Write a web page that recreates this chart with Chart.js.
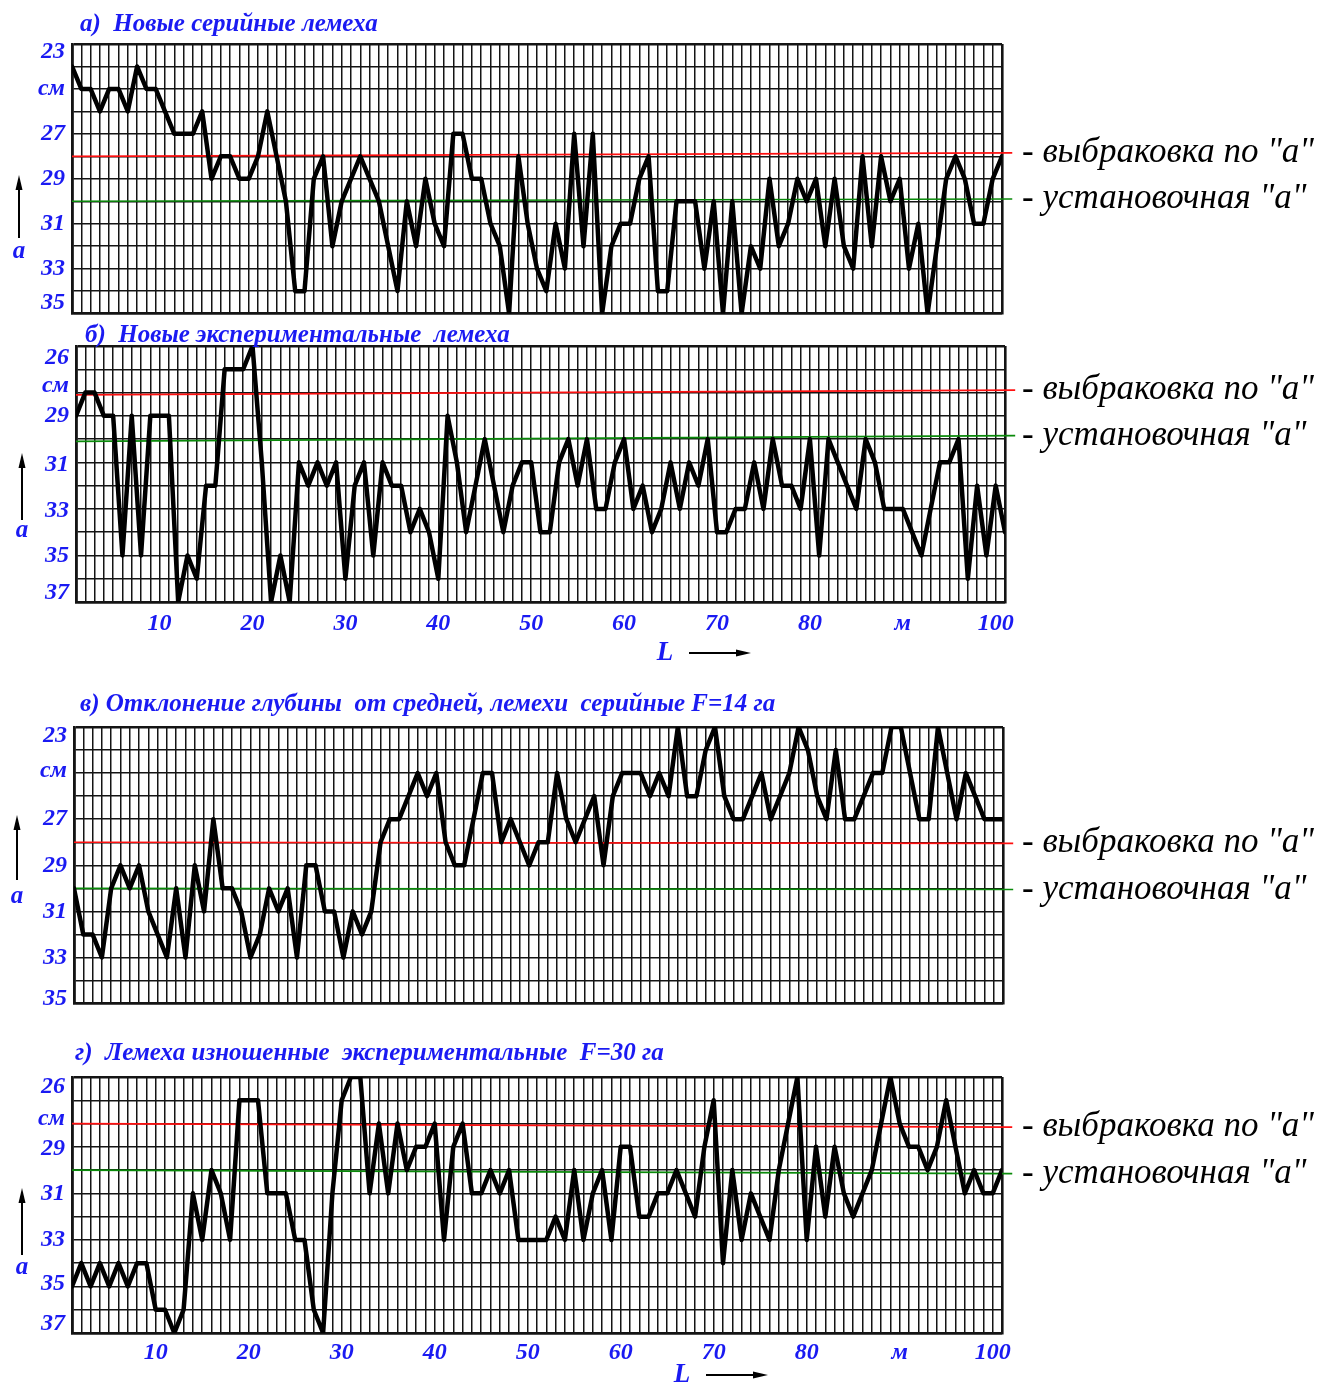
<!DOCTYPE html>
<html lang="ru">
<head>
<meta charset="utf-8">
<title>Глубина вспашки по длине гона</title>
<script src="https://cdn.jsdelivr.net/npm/chart.js@4.4.1/dist/chart.umd.min.js"></script>
<style>
  html, body { margin: 0; padding: 0; background: #fff; }
  #page { position: relative; width: 1318px; height: 1383px; overflow: hidden; }
  #page canvas { position: absolute; left: 0; }
</style>
</head>
<body>
<div id="page">
  <canvas id="chartA"></canvas>
  <canvas id="chartB"></canvas>
  <canvas id="chartC"></canvas>
  <canvas id="chartD"></canvas>
</div>
<script>
// Depth of ploughing along the run, four recorder strips
const BLUE = '#1a1af2';
const GRID = '#141414';
const SERIF = '"Liberation Serif", "Times New Roman", serif';
const TICK_FONT = { family: SERIF, size: 24, weight: 'bold', style: 'italic' };
const ARROW_END = 102.1;   // where the red / green arrows stop, in metres

// Length of run L, m (one reading per metre)
const metres = Array.from({ length: 101 }, (_, i) => i + 1);

// L axis labels
const lTickValues = [10, 20, 30, 40, 50, 60, 70, 80, 90, 100];
const lTickLabels = ['10', '20', '30', '40', '50', '60', '70', '80', 'м', '100'];

// а) new serial shares, depth a, cm
const depthA = [24, 25, 25, 26, 25, 25, 26, 24, 25, 25, 26, 27, 27, 27, 26, 29, 28, 28, 29, 29,
                28, 26, 28, 30, 34, 34, 29, 28, 32, 30, 29, 28, 29, 30, 32, 34, 30, 32, 29, 31,
                32, 27, 27, 29, 29, 31, 32, 35, 28, 31, 33, 34, 31, 33, 27, 32, 27, 35, 32, 31,
                31, 29, 28, 34, 34, 30, 30, 30, 33, 30, 35, 30, 35, 32, 33, 29, 32, 31, 29, 30,
                29, 32, 29, 32, 33, 28, 32, 28, 30, 29, 33, 31, 35, 32, 29, 28, 29, 31, 31, 29, 28];
const rejectA = [28, 27.85];
const settingA = [30, 29.9];
const aTickValues = [23.35, 25, 27, 29, 31, 33, 34.5];
const aTickLabels = ['23', 'см', '27', '29', '31', '33', '35'];

// б) new experimental shares
const depthB = [29, 28, 28, 29, 29, 35, 29, 35, 29, 29, 29, 37, 35, 36, 32, 32, 27, 27, 27, 26,
                31, 37, 35, 37, 31, 32, 31, 32, 31, 36, 32, 31, 35, 31, 32, 32, 34, 33, 34, 36,
                29, 31, 34, 32, 30, 32, 34, 32, 31, 31, 34, 34, 31, 30, 32, 30, 33, 33, 31, 30,
                33, 32, 34, 33, 31, 33, 31, 32, 30, 34, 34, 33, 33, 31, 33, 30, 32, 32, 33, 30,
                35, 30, 31, 32, 33, 30, 31, 33, 33, 33, 34, 35, 33, 31, 31, 30, 36, 32, 35, 32, 34];
const rejectB = [28.1, 27.9];
const settingB = [30.1, 29.85];
const bTickValues = [26.5, 27.7, 29, 31.1, 33.1, 35, 36.6];
const bTickLabels = ['26', 'см', '29', '31', '33', '35', '37'];

// в) serial shares, F = 14 ha
const depthC = [30, 32, 32, 33, 30, 29, 30, 29, 31, 32, 33, 30, 33, 29, 31, 27, 30, 30, 31, 33,
                32, 30, 31, 30, 33, 29, 29, 31, 31, 33, 31, 32, 31, 28, 27, 27, 26, 25, 26, 25,
                28, 29, 29, 27, 25, 25, 28, 27, 28, 29, 28, 28, 25, 27, 28, 27, 26, 29, 26, 25,
                25, 25, 26, 25, 26, 23, 26, 26, 24, 23, 26, 27, 27, 26, 25, 27, 26, 25, 23, 24,
                26, 27, 24, 27, 27, 26, 25, 25, 23, 23, 25, 27, 27, 23, 25, 27, 25, 26, 27, 27, 27];
const rejectC = [28, 28.05];
const settingC = [30, 30.05];
const cTickValues = [23.4, 24.9, 27, 29, 31, 33, 34.8];
const cTickLabels = ['23', 'см', '27', '29', '31', '33', '35'];

// г) worn experimental shares, F = 30 ha
const depthD = [35, 34, 35, 34, 35, 34, 35, 34, 34, 36, 36, 37, 36, 31, 33, 30, 31, 33, 27, 27,
                27, 31, 31, 31, 33, 33, 36, 37, 31, 27, 26, 26, 31, 28, 31, 28, 30, 29, 29, 28,
                33, 29, 28, 31, 31, 30, 31, 30, 33, 33, 33, 33, 32, 33, 30, 33, 31, 30, 33, 29,
                29, 32, 32, 31, 31, 30, 31, 32, 29, 27, 34, 30, 33, 31, 32, 33, 30, 28, 26, 33,
                29, 32, 29, 31, 32, 31, 30, 28, 26, 28, 29, 29, 30, 29, 27, 29, 31, 30, 31, 31, 30];
const rejectD = [28, 28.15];
const settingD = [30, 30.15];
const dTickValues = [26.4, 27.8, 29.1, 31, 33, 34.9, 36.6];
const dTickLabels = ['26', 'см', '29', '31', '33', '35', '37'];

const rejectText = '- выбраковка по "а"';
const settingText = '- установочная "а"';

// Arrow with a filled head, from (x1,y1) towards (x2,y2)
function drawArrow(ctx, x1, y1, x2, y2) {
    const ang = Math.atan2(y2 - y1, x2 - x1);
    ctx.strokeStyle = '#000';
    ctx.fillStyle = '#000';
    ctx.lineWidth = 2;
    ctx.beginPath();
    ctx.moveTo(x1, y1);
    ctx.lineTo(x2 - 10 * Math.cos(ang), y2 - 10 * Math.sin(ang));
    ctx.stroke();
    ctx.beginPath();
    ctx.moveTo(x2, y2);
    ctx.lineTo(x2 - 15 * Math.cos(ang) + 3.5 * Math.sin(ang), y2 - 15 * Math.sin(ang) - 3.5 * Math.cos(ang));
    ctx.lineTo(x2 - 15 * Math.cos(ang) - 3.5 * Math.sin(ang), y2 - 15 * Math.sin(ang) + 3.5 * Math.cos(ang));
    ctx.closePath();
    ctx.fill();
}

// Titles, the "a" arrow, the L arrow and the labels of the red / green lines
const decorPlugin = {
    id: 'decor',
    afterDraw(chart, args, opts) {
        const ctx = chart.ctx;
        const t = opts.canvasTop;
        ctx.save();

        ctx.fillStyle = BLUE;
        ctx.font = 'italic bold 25px ' + SERIF;
        ctx.textBaseline = 'middle';
        ctx.textAlign = 'left';
        ctx.fillText(opts.title, opts.titleX, opts.titleY - t);

        drawArrow(ctx, opts.sideX, opts.sideBottom - t, opts.sideX, opts.sideTop - t);
        ctx.fillStyle = BLUE;
        ctx.font = 'italic bold 25px ' + SERIF;
        ctx.textAlign = 'center';
        ctx.fillText('а', opts.sideX, opts.letterY - t);

        if (opts.lX) {
            ctx.font = 'italic bold 27px ' + SERIF;
            ctx.fillText('L', opts.lX, opts.lY - t);
            drawArrow(ctx, opts.lX + 24, opts.lY - t, opts.lX + 86, opts.lY - t);
        }

        // text next to the arrow heads
        ctx.fillStyle = '#000';
        ctx.font = 'italic 35px ' + SERIF;
        ctx.textAlign = 'left';
        ctx.textBaseline = 'alphabetic';
        const redEnd = chart.getDatasetMeta(1).data[1];
        const greenEnd = chart.getDatasetMeta(2).data[1];
        ctx.fillText(rejectText, 1022, redEnd.y + 9);
        ctx.fillText(settingText, 1022, greenEnd.y + 9);

        ctx.restore();
    }
};

function refLine(level, color) {
    return {
        data: [{ x: metres[0], y: level[0] }, { x: ARROW_END, y: level[1] }],
        borderColor: color,
        borderWidth: 1.7,
        pointRadius: [0, 7],
        pointStyle: 'triangle',
        pointRotation: 90,
        pointBackgroundColor: '#fff',
        pointBorderColor: color,
        pointBorderWidth: 1.6,
        clip: false
    };
}

function edgeWidth(ctx, count) {
    return (ctx.index === 0 || ctx.index === count - 1) ? 2.6 : 1.5;
}

function buildPanel(id, p) {
    const canvas = document.getElementById(id);
    canvas.width = 1318;
    canvas.height = p.height;
    canvas.style.top = p.top + 'px';
    const ySteps = p.yMax - p.yMin + 1;

    return new Chart(canvas, {
        type: 'line',
        data: {
            datasets: [
                {
                    data: metres.map((m, i) => ({ x: m, y: p.depth[i] })),
                    borderColor: '#000',
                    borderWidth: 4.5,
                    pointRadius: 0,
                    tension: 0,
                    borderJoinStyle: 'round',
                    borderCapStyle: 'round'
                },
                refLine(p.reject, '#ff1010'),
                refLine(p.setting, '#0a8a0a')
            ]
        },
        options: {
            responsive: false,
            animation: false,
            devicePixelRatio: 1,
            layout: {
                autoPadding: false,
                padding: { top: p.area.top - p.top, right: 1318 - p.area.right, left: 0, bottom: 0 }
            },
            plugins: {
                legend: { display: false },
                tooltip: { enabled: false },
                decor: Object.assign({ canvasTop: p.top }, p.decor)
            },
            scales: {
                x: {
                    type: 'linear',
                    min: 1,
                    max: 101,
                    afterBuildTicks: s => { s.ticks = metres.map(v => ({ value: v })); },
                    afterFit: s => { s.height = p.top + p.height - p.area.bottom; },
                    ticks: {
                        display: p.showL,
                        autoSkip: false,
                        maxRotation: 0,
                        padding: p.lPadding,
                        color: BLUE,
                        font: TICK_FONT,
                        callback: v => {
                            const k = lTickValues.indexOf(v);
                            return k < 0 ? '' : lTickLabels[k];
                        }
                    },
                    grid: { color: GRID, lineWidth: c => edgeWidth(c, metres.length), drawTicks: false },
                    border: { color: GRID, width: 2.6 }
                },
                y: {
                    position: 'left',
                    min: p.yMin,
                    max: p.yMax,
                    reverse: true,
                    afterBuildTicks: s => {
                        const t = [];
                        for (let v = p.yMin; v <= p.yMax; v++) t.push({ value: v });
                        s.ticks = t;
                    },
                    afterFit: s => { s.width = 0; },
                    ticks: { display: false },
                    grid: { color: GRID, lineWidth: c => edgeWidth(c, ySteps), drawTicks: false },
                    border: { color: GRID, width: 2.6 }
                },
                yl: {
                    position: 'left',
                    min: p.yMin,
                    max: p.yMax,
                    reverse: true,
                    afterBuildTicks: s => { s.ticks = p.tickValues.map(v => ({ value: v })); },
                    afterFit: s => { s.width = p.area.left; },
                    ticks: {
                        autoSkip: false,
                        padding: 7,
                        color: BLUE,
                        font: TICK_FONT,
                        callback: (v, i) => p.tickLabels[i]
                    },
                    grid: { display: false, drawTicks: false },
                    border: { display: false }
                }
            }
        },
        plugins: [decorPlugin]
    });
}

buildPanel('chartA', {
    top: 0, height: 335,
    area: { left: 72, right: 1002, top: 44, bottom: 321 },
    depth: depthA, reject: rejectA, setting: settingA,
    yMin: 23, yMax: 35, tickValues: aTickValues, tickLabels: aTickLabels,
    showL: false, lPadding: 6,
    decor: { title: 'а)  Новые серийные лемеха', titleX: 80, titleY: 25,
             sideX: 19, sideTop: 175, sideBottom: 238, letterY: 252 }
});

buildPanel('chartB', {
    top: 318, height: 362,
    area: { left: 76, right: 1005, top: 346, bottom: 602 },
    depth: depthB, reject: rejectB, setting: settingB,
    yMin: 26, yMax: 37, tickValues: bTickValues, tickLabels: bTickLabels,
    showL: true, lPadding: 7,
    decor: { title: 'б)  Новые экспериментальные  лемеха', titleX: 85, titleY: 336,
             sideX: 22, sideTop: 453, sideBottom: 520, letterY: 531, lX: 665, lY: 653 }
});

buildPanel('chartC', {
    top: 680, height: 345,
    area: { left: 74, right: 1003, top: 727, bottom: 1007 },
    depth: depthC, reject: rejectC, setting: settingC,
    yMin: 23, yMax: 35, tickValues: cTickValues, tickLabels: cTickLabels,
    showL: false, lPadding: 6,
    decor: { title: 'в) Отклонение глубины  от средней, лемехи  серийные F=14 га', titleX: 80, titleY: 705,
             sideX: 17, sideTop: 815, sideBottom: 880, letterY: 897 }
});

buildPanel('chartD', {
    top: 1030, height: 353,
    area: { left: 72, right: 1002, top: 1077, bottom: 1333 },
    depth: depthD, reject: rejectD, setting: settingD,
    yMin: 26, yMax: 37, tickValues: dTickValues, tickLabels: dTickLabels,
    showL: true, lPadding: 5,
    decor: { title: 'г)  Лемеха изношенные  экспериментальные  F=30 га', titleX: 75, titleY: 1054,
             sideX: 22, sideTop: 1188, sideBottom: 1255, letterY: 1268, lX: 682, lY: 1375 }
});
</script>
</body>
</html>
